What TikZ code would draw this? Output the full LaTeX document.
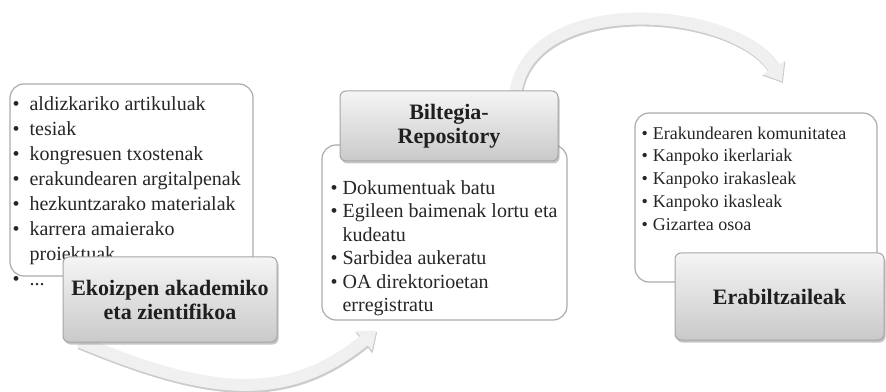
\documentclass[tikz,border=0pt]{standalone}
\usepackage{fontspec}
\setmainfont{Liberation Serif}
\usetikzlibrary{positioning,shadows,arrows.meta,backgrounds}
\newcommand{\bul}{\textbullet\hspace{5pt}}
\newcommand{\bulgap}{\phantom{\textbullet}\hspace{5pt}}
\newcommand{\bulw}{\textbullet\hspace{10pt}}
\newcommand{\bulwgap}{\phantom{\textbullet}\hspace{10pt}}

\begin{document}
\begin{tikzpicture}[x=1pt,y=1pt,
        listbox/.style={draw=gray!65, line width=1.2pt, fill=white, rounded corners=14pt},
        listtext/.style={inner sep=0pt, align=left, text=black!85},
        titlebox/.style={draw=gray!70, line width=1pt, rounded corners=6pt,
            top color=gray!8, bottom color=gray!42,
            drop shadow={shadow xshift=1.5pt, shadow yshift=-2.5pt, opacity=0.45},
            align=center, text=black!88, font=\fontsize{22}{24}\selectfont\bfseries},
        flowarrow/.style={line width=12pt, draw=gray!12, -{Triangle[length=16pt,width=24pt]}},
        flowshade/.style={line width=13pt, draw=gray!40, -{Triangle[length=17pt,width=26pt]},
            transform canvas={xshift=0.8pt,yshift=-1.5pt}}]
        \useasboundingbox (0,0) rectangle (886,391);

        \node[listbox, minimum width=243pt, minimum height=192pt] (outputs) at (131.5,211) {};
        \node[listtext, font=\fontsize{20}{25}\selectfont, below right=13pt and 3pt of outputs.north west] (outputs-text)
            {\bulw aldizkariko artikuluak\\ \bulw tesiak\\ \bulw kongresuen txostenak\\
             \bulw erakundearen argitalpenak\\ \bulw hezkuntzarako materialak\\
             \bulw karrera amaierako\\ \bulwgap proiektuak\\ \bulw ...};
        \node[titlebox, minimum width=214pt, minimum height=85pt] (production) at (170,91.5)
            {Ekoizpen akademiko\\eta zientifikoa};

        \node[listbox, minimum width=245pt, minimum height=175pt] (tasks) at (444.5,158.5) {};
        \node[listtext, font=\fontsize{20}{23.5}\selectfont, below right=36pt and 9pt of tasks.north west] (tasks-text)
            {\bul Dokumentuak batu\\ \bul Egileen baimenak lortu eta\\ \bulgap kudeatu\\
             \bul Sarbidea aukeratu\\ \bul OA direktorioetan\\ \bulgap erregistratu};
        \node[titlebox, minimum width=218pt, minimum height=70pt] (repo) at (449,265)
            {Biltegia-\\Repository};

        \node[listbox, minimum width=242pt, minimum height=169pt] (audience) at (756,193.5) {};
        \node[listtext, font=\fontsize{18}{22.8}\selectfont, below right=14pt and 7pt of audience.north west] (audience-text)
            {\bul Erakundearen komunitatea\\ \bul Kanpoko ikerlariak\\ \bul Kanpoko irakasleak\\
             \bul Kanpoko ikasleak\\ \bul Gizartea osoa};
        \node[titlebox, minimum width=209pt, minimum height=87pt] (users) at (779.5,94.5)
            {Erabiltzaileak};

        \begin{pgfonlayer}{background}
            \fill[white] (0,0) rectangle (886,391);
            \draw[flowshade] ([xshift=17pt,yshift=1pt]production.south west) .. controls +(130,-54) and +(-90,-73) .. ([xshift=55pt,yshift=-10pt]tasks.south west);
            \draw[flowarrow] ([xshift=17pt,yshift=1pt]production.south west) .. controls +(130,-54) and +(-90,-73) .. ([xshift=55pt,yshift=-10pt]tasks.south west);
            \draw[flowshade] ([xshift=-43pt,yshift=-2pt]repo.north east) .. controls +(15,102) and +(-47,76) .. ([xshift=26pt,yshift=31pt]audience.north);
            \draw[flowarrow] ([xshift=-43pt,yshift=-2pt]repo.north east) .. controls +(15,102) and +(-47,76) .. ([xshift=26pt,yshift=31pt]audience.north);
        \end{pgfonlayer}
    \end{tikzpicture}
\end{document}
